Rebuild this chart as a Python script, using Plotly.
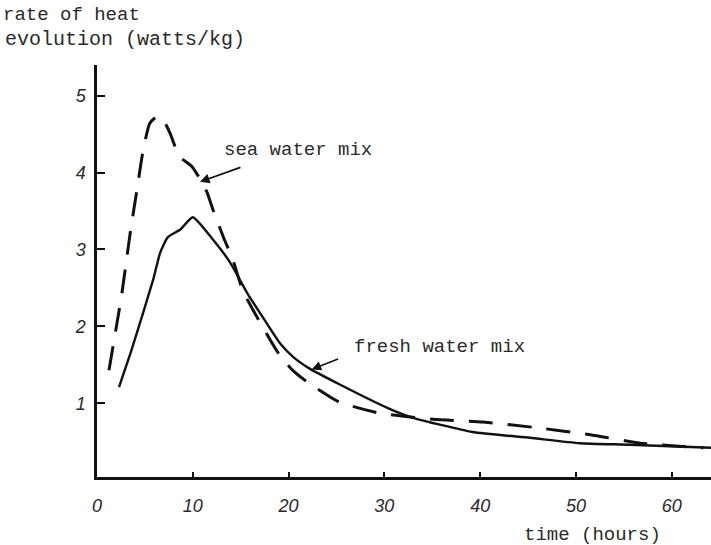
import plotly.graph_objects as go

# Rate of heat evolution of cement mixes (watts/kg) against time (hours)
sea_time = [1.25, 2.6, 3.45, 4.2, 4.8, 5.5, 6.25, 6.8, 7.6, 8.6, 9.9, 10.8, 11.5, 12.1,
            13.2, 14.2, 15.2, 16.3, 18.1, 19.1, 20.5, 21.9, 25.2, 29.5, 35.1, 40.3, 46.0,
            51.5, 56.7, 63.3]
sea_rate = [1.43, 2.43, 3.20, 3.80, 4.28, 4.64, 4.73, 4.71, 4.52, 4.21, 4.08, 3.91, 3.74, 3.52,
            3.16, 2.86, 2.47, 2.21, 1.82, 1.62, 1.42, 1.28, 1.02, 0.87, 0.79, 0.755, 0.68,
            0.59, 0.48, 0.42]

fresh_time = [2.3, 3.6, 5.85, 6.6, 7.4, 8.7, 10.0, 12.1, 13.9, 15.7, 17.4, 19.1, 20.5, 22.2,
              25.4, 30.3, 33.0, 39.2, 45.2, 50.4, 55.6, 64.1]
fresh_rate = [1.21, 1.69, 2.60, 2.96, 3.16, 3.26, 3.42, 3.13, 2.83, 2.43, 2.10, 1.78, 1.60, 1.45,
              1.24, 0.94, 0.81, 0.625, 0.55, 0.48, 0.46, 0.42]

x_ticks = [0, 10, 20, 30, 40, 50, 60]
y_ticks = [1, 2, 3, 4, 5]

INK = "#111111"
TEXT = "#2a2a2a"
MONO = "Liberation Mono, Courier New, monospace"

fig = go.Figure()
fig.add_trace(go.Scatter(
    x=sea_time, y=sea_rate, mode="lines", name="sea water mix",
    line=dict(color=INK, width=3, dash="24px,15px", shape="spline", smoothing=0.5),
))
fig.add_trace(go.Scatter(
    x=fresh_time, y=fresh_rate, mode="lines", name="fresh water mix",
    line=dict(color=INK, width=2.4, shape="spline", smoothing=0.5),
))

text_font = dict(family=MONO, size=19, color=TEXT)
annotations = [
    dict(text="rate of heat", xref="paper", yref="paper", x=-0.156, y=1.121,
         xanchor="left", yanchor="middle", showarrow=False, font=text_font),
    dict(text="evolution (watts/kg)", xref="paper", yref="paper", x=-0.153, y=1.063,
         xanchor="left", yanchor="middle", showarrow=False,
         font=dict(family=MONO, size=20, color=TEXT)),
    dict(text="time (hours)", xref="paper", yref="paper", x=0.692, y=-0.141,
         xanchor="left", yanchor="middle", showarrow=False, font=text_font),
    dict(text="sea water mix", xref="paper", yref="paper", x=0.2036, y=0.794,
         xanchor="left", yanchor="middle", showarrow=False, font=text_font),
    dict(text="fresh water mix", xref="paper", yref="paper", x=0.415, y=0.3155,
         xanchor="left", yanchor="middle", showarrow=False, font=text_font),
    # pointer arrows from the labels to their curves
    dict(text="", x=10.75, y=3.88, xref="x", yref="y", ax=42, ay=-15,
         showarrow=True, arrowhead=2, arrowsize=1.2, arrowwidth=1.6, arrowcolor=INK,
         standoff=0, startstandoff=0),
    dict(text="", x=22.4, y=1.44, xref="x", yref="y", ax=28, ay=-11,
         showarrow=True, arrowhead=2, arrowsize=1.2, arrowwidth=1.6, arrowcolor=INK,
         standoff=0, startstandoff=0),
]

tick_font = dict(family="Liberation Sans, Arial, sans-serif", size=18, color=TEXT,
                 style="italic")

fig.update_layout(
    width=711, height=545,
    margin=dict(l=97, r=0, t=65, b=68),
    paper_bgcolor="white", plot_bgcolor="white",
    showlegend=False,
    annotations=annotations,
    xaxis=dict(
        range=[0, 64.1], tickvals=x_ticks, ticktext=[str(v) for v in x_ticks],
        showgrid=False, zeroline=False, showline=True, linecolor=INK, linewidth=2.5,
        ticks="inside", ticklen=5, tickwidth=2, tickcolor=INK,
        tickfont=tick_font, ticklabelstandoff=11,
    ),
    yaxis=dict(
        range=[0.04, 5.40], tickvals=y_ticks, ticktext=[str(v) for v in y_ticks],
        showgrid=False, zeroline=False, showline=True, linecolor=INK, linewidth=2.5,
        ticks="inside", ticklen=8, tickwidth=2, tickcolor=INK,
        tickfont=tick_font, ticklabelstandoff=5,
    ),
)

fig.write_html("out.html")
